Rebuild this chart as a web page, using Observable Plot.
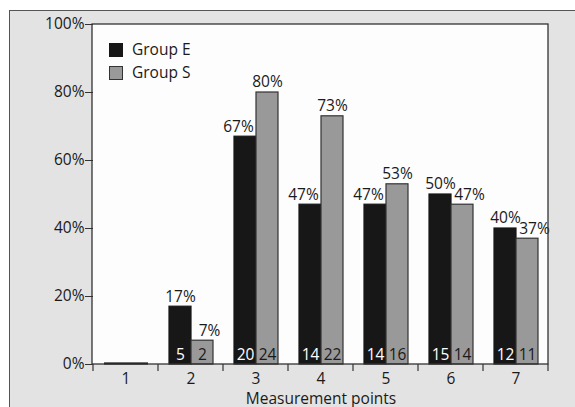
<!DOCTYPE html>
<html>
<head>
<meta charset="utf-8">
<script src="https://cdn.jsdelivr.net/npm/d3@7"></script>
<script src="https://cdn.jsdelivr.net/npm/@observablehq/plot@0.6"></script>
<style>
  html, body { margin: 0; padding: 0; background: #ffffff; }
  #wrap { position: relative; width: 575px; height: 407px; overflow: hidden; font-family: "Open Sans", sans-serif; color: #1a1a1a; }
  #panel { position: absolute; left: 9px; top: 10px; width: 600px; height: 420px; background: #e3e3e3; border-top: 1.5px solid #555; border-left: 1.5px solid #555; }
  #chart { position: absolute; left: 0; top: 0; }
  #legend { position: absolute; left: 109px; top: 38px; font-size: 15.5px; line-height: 23px; }
  .item { display: flex; align-items: center; }
  .sw { width: 14px; height: 14px; margin-right: 9px; box-sizing: border-box; }
</style>
</head>
<body>
<div id="wrap">
  <div id="panel"></div>
  <div id="chart"></div>
  <div id="legend"></div>
</div>
<script>
// ---- data ----
const groups = [1, 2, 3, 4, 5, 6, 7];
const seriesNames = ["Group E", "Group S"];
const pctE = [0, 17, 67, 47, 47, 50, 40];
const pctS = [0, 7, 80, 73, 53, 47, 37];
const nE = [0, 5, 20, 14, 14, 15, 12];
const nS = [0, 2, 24, 22, 16, 14, 11];
const yTicks = [0, 20, 40, 60, 80, 100];
const xLabel = "Measurement points";

const colors = {"Group E": "#171717", "Group S": "#999999"};
const strokes = {"Group E": "#171717", "Group S": "#333333"};
const countFill = {"Group E": "#ffffff", "Group S": "#1a1a1a"};

const rows = [];
groups.forEach((g, i) => {
  rows.push({group: g, series: "Group E", pct: pctE[i], n: nE[i], other: pctS[i]});
  rows.push({group: g, series: "Group S", pct: pctS[i], n: nS[i], other: pctE[i]});
});
const labeled = rows.filter(d => d.n > 0);
const zeros = rows.filter(d => d.pct === 0);
const isE = d => d.series === "Group E";

const FS = 15.5;
const txt = {fontSize: FS, fill: "#1a1a1a", fontFamily: "Open Sans"};

const plot = Plot.plot({
  width: 575,
  height: 407,
  marginLeft: 92,
  marginRight: 27,
  marginTop: 24,
  marginBottom: 43,
  style: {background: "transparent", fontFamily: "Open Sans", fontSize: FS + "px", color: "#1a1a1a"},
  fx: {domain: groups, padding: 0, label: xLabel},
  x: {domain: seriesNames, paddingInner: 0, paddingOuter: 0.42, axis: null},
  y: {domain: [0, 100], axis: null, label: null},
  marks: [
    Plot.barY(rows, {fx: "group", x: "series", y: "pct", fill: d => colors[d.series], stroke: d => strokes[d.series], strokeWidth: 1.2}),
    // zero-valued bars show as a thin line on the baseline
    Plot.tickY(zeros, {fx: "group", x: "series", y: "pct", stroke: "#171717", strokeWidth: 2.2, dy: -1}),
    // percentage labels: centered unless the neighbouring bar is taller/shorter
    Plot.text(labeled.filter(d => isE(d) && d.pct >= d.other), {fx: "group", x: "series", y: "pct", text: d => d.pct + "%", dy: -10, ...txt}),
    Plot.text(labeled.filter(d => isE(d) && d.pct < d.other), {fx: "group", x: "series", y: "pct", text: d => d.pct + "%", dy: -10, dx: -7, ...txt}),
    Plot.text(labeled.filter(d => !isE(d) && d.pct >= d.other), {fx: "group", x: "series", y: "pct", text: d => d.pct + "%", dy: -10, ...txt}),
    Plot.text(labeled.filter(d => !isE(d) && d.pct < d.other), {fx: "group", x: "series", y: "pct", text: d => d.pct + "%", dy: -10, dx: 7, ...txt}),
    // counts inside bars
    Plot.text(labeled, {fx: "group", x: "series", y: 0, text: "n", dy: -9, fontSize: FS, fontFamily: "Open Sans", fill: d => countFill[d.series]}),
    Plot.axisY({ticks: yTicks, tickFormat: d => d + "%", tickSize: 8, tickPadding: 1, fontSize: FS, stroke: "#333", label: null}),
    Plot.axisFx({anchor: "bottom", tickSize: 0, tickPadding: 8, fontSize: FS, label: xLabel, labelAnchor: "center", labelOffset: 39})
  ]
});

document.getElementById("chart").appendChild(plot);

// plot area background, border and band-boundary ticks from the plot's own scales
const fx = plot.scale("fx");
const ys = plot.scale("y");
const x0 = fx.range[0], x1 = fx.range[1];
const yTop = ys.apply(100), yBot = ys.apply(0);
const svg = d3.select(plot);
const bg = document.createElementNS("http://www.w3.org/2000/svg", "rect");
plot.insertBefore(bg, plot.querySelector("g"));
d3.select(bg)
  .attr("x", x0).attr("y", yTop).attr("width", x1 - x0).attr("height", yBot - yTop)
  .attr("fill", "#fdfdfd");
svg.append("rect")
  .attr("x", x0).attr("y", yTop).attr("width", x1 - x0).attr("height", yBot - yTop)
  .attr("fill", "none").attr("stroke", "#333").attr("stroke-width", 1.3);
const edges = fx.domain.map(d => fx.apply(d)).concat([x1]);
svg.append("g").selectAll("line").data(edges).join("line")
  .attr("x1", d => d).attr("x2", d => d).attr("y1", yBot).attr("y2", yBot + 7)
  .attr("stroke", "#333").attr("stroke-width", 1.2);

// legend
const legend = d3.select("#legend");
seriesNames.forEach(s => {
  const it = legend.append("div").attr("class", "item");
  it.append("div").attr("class", "sw").style("background", colors[s]).style("border", "1.2px solid " + strokes[s]);
  it.append("span").text(s);
});
</script>
</body>
</html>
